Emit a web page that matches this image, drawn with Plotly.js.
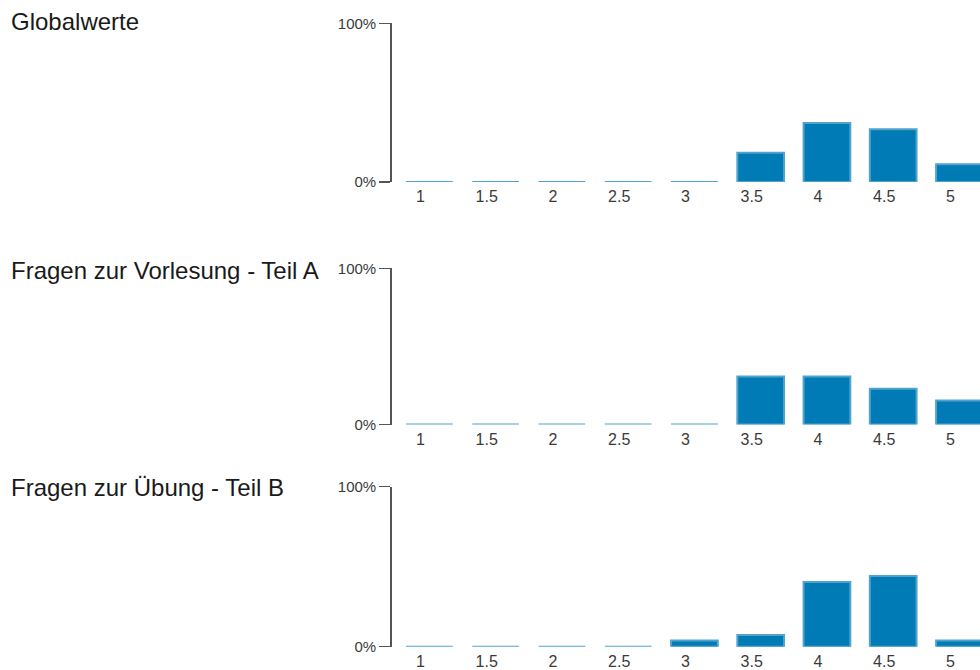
<!DOCTYPE html>
<html>
<head>
<meta charset="utf-8">
<script src="https://cdn.plot.ly/plotly-3.0.1.min.js"></script>
<style>html,body{margin:0;padding:0;background:#fff;}#chart{width:980px;height:670px;}</style>
</head>
<body>
<div id="chart"></div>
<script>
// ---- data ----
var categories = ['1', '1.5', '2', '2.5', '3', '3.5', '4', '4.5', '5'];
var globalwerte = [0, 0, 0, 0, 0, 18.5, 37.1, 33.2, 11.2];
var teilA = [0, 0, 0, 0, 0, 30.8, 30.8, 22.9, 15.4];
var teilB = [0, 0, 0, 0, 3.8, 7.3, 40.4, 44.2, 3.8];
var panelTitles = ['Globalwerte', 'Fragen zur Vorlesung - Teil A', 'Fragen zur Übung - Teil B'];
var yTickVals = [0, 100];
var yTickText = ['0%', '100%'];

var series = [globalwerte, teilA, teilB];

// ---- layout helpers (pixel based) ----
var W = 980, H = 670;
function py(px) { return 1 - px / H; }
var panels = [
  {top: 23.3, bottom: 182, titleY: 21},
  {top: 268.3, bottom: 424.5, titleY: 270},
  {top: 486.7, bottom: 646.7, titleY: 487}
];
var axisX = 391.7;
var FONT = '"Liberation Sans", Arial, sans-serif';

var traces = [];
var layout = {
  width: W, height: H,
  margin: {l: 0, r: 0, t: 0, b: 0, pad: 0},
  paper_bgcolor: '#fff', plot_bgcolor: '#fff',
  showlegend: false,
  bargap: 0.295,
  font: {family: FONT, color: '#444', size: 15},
  annotations: []
};

series.forEach(function (vals, i) {
  var sfx = i === 0 ? '' : String(i + 1);
  traces.push({
    type: 'bar',
    x: categories,
    y: vals,
    xaxis: 'x' + sfx,
    yaxis: 'y' + sfx,
    marker: {color: '#017bb6', line: {color: '#4fa3cc', width: 2}},
    hoverinfo: 'skip'
  });
  var p = panels[i];
  layout['xaxis' + sfx] = {
    type: 'category',
    domain: [axisX / W, 1],
    anchor: 'y' + sfx,
    range: [-0.569, 8.31],
    showline: false, showgrid: false, zeroline: false,
    ticks: '',
    ticklabelshift: -9,
    ticklabelstandoff: 3,
    tickfont: {family: FONT, size: 16, color: '#3a3a3a'},
    fixedrange: true
  };
  layout['yaxis' + sfx] = {
    domain: [py(p.bottom), py(p.top)],
    anchor: 'x' + sfx,
    range: [0, 100],
    tickmode: 'array',
    tickvals: yTickVals,
    ticktext: yTickText,
    showline: true, linecolor: '#555', linewidth: 1.5,
    ticks: 'outside', ticklen: 11, tickcolor: '#555', tickwidth: 1.5,
    showgrid: false, zeroline: false,
    tickfont: {family: FONT, size: 15, color: '#3a3a3a'},
    fixedrange: true
  };
  layout.annotations.push({
    text: panelTitles[i],
    xref: 'paper', yref: 'paper',
    x: 10 / W, y: py(p.titleY),
    xanchor: 'left', yanchor: 'middle',
    showarrow: false,
    borderpad: 0,
    font: {family: FONT, size: 24, color: '#1a1a1a'}
  });
});

Plotly.newPlot('chart', traces, layout, {displayModeBar: false, staticPlot: true});
</script>
</body>
</html>
